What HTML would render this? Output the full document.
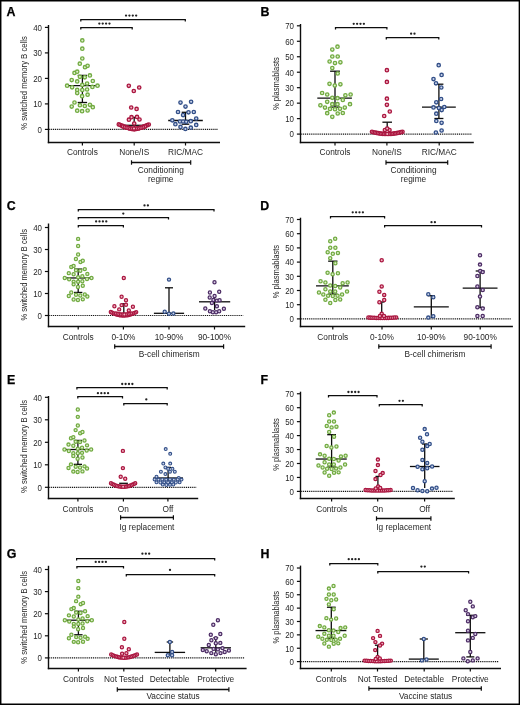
<!DOCTYPE html>
<html><head><meta charset="utf-8"><title>Figure</title>
<style>
html,body{margin:0;padding:0;background:#fff;}
body{width:520px;height:706px;overflow:hidden;}
svg{display:block;font-family:"Liberation Sans",sans-serif;}
svg{will-change:transform;}
</style></head><body>
<svg width="520" height="706" viewBox="0 0 520 706">
<rect width="520" height="706" fill="#fff"/>
<line x1="48.5" y1="25" x2="48.5" y2="143.2" stroke="#0d0d0d" stroke-width="1.4"/>
<line x1="44.9" y1="129.4" x2="48.5" y2="129.4" stroke="#0d0d0d" stroke-width="1.2"/>
<text transform="translate(42 132.7) scale(0.86 1)" font-size="9.2" text-anchor="end" fill="#262626">0</text>
<line x1="44.9" y1="103.9" x2="48.5" y2="103.9" stroke="#0d0d0d" stroke-width="1.2"/>
<text transform="translate(42 107.2) scale(0.86 1)" font-size="9.2" text-anchor="end" fill="#262626">10</text>
<line x1="44.9" y1="78.4" x2="48.5" y2="78.4" stroke="#0d0d0d" stroke-width="1.2"/>
<text transform="translate(42 81.7) scale(0.86 1)" font-size="9.2" text-anchor="end" fill="#262626">20</text>
<line x1="44.9" y1="52.9" x2="48.5" y2="52.9" stroke="#0d0d0d" stroke-width="1.2"/>
<text transform="translate(42 56.2) scale(0.86 1)" font-size="9.2" text-anchor="end" fill="#262626">30</text>
<line x1="44.9" y1="27.4" x2="48.5" y2="27.4" stroke="#0d0d0d" stroke-width="1.2"/>
<text transform="translate(42 30.7) scale(0.86 1)" font-size="9.2" text-anchor="end" fill="#262626">40</text>
<line x1="47.8" y1="142.5" x2="220" y2="142.5" stroke="#0d0d0d" stroke-width="1.4"/>
<line x1="49.2" y1="129.4" x2="218" y2="129.4" stroke="#141414" stroke-width="1.2" stroke-dasharray="1.1 0.8"/>
<line x1="82.4" y1="142.5" x2="82.4" y2="145.5" stroke="#0d0d0d" stroke-width="1.2"/>
<text x="82.4" y="155" font-size="8.3" text-anchor="middle" fill="#262626">Controls</text>
<line x1="134.2" y1="142.5" x2="134.2" y2="145.5" stroke="#0d0d0d" stroke-width="1.2"/>
<text x="134.2" y="155" font-size="8.3" text-anchor="middle" fill="#262626">None/IS</text>
<line x1="185.5" y1="142.5" x2="185.5" y2="145.5" stroke="#0d0d0d" stroke-width="1.2"/>
<text x="185.5" y="155" font-size="8.3" text-anchor="middle" fill="#262626">RIC/MAC</text>
<line x1="131.5" y1="162.5" x2="190.7" y2="162.5" stroke="#0d0d0d" stroke-width="1.3"/>
<line x1="131.5" y1="160.3" x2="131.5" y2="164.7" stroke="#0d0d0d" stroke-width="1.2"/>
<line x1="190.7" y1="160.3" x2="190.7" y2="164.7" stroke="#0d0d0d" stroke-width="1.2"/>
<text x="160.8" y="173.3" font-size="8.3" text-anchor="middle" fill="#262626">Conditioning</text>
<text x="160.8" y="182.2" font-size="8.3" text-anchor="middle" fill="#262626">regime</text>
<text x="0" y="0" font-size="8.8" fill="#262626" text-anchor="middle" textLength="93.5" lengthAdjust="spacingAndGlyphs" transform="translate(27 83) rotate(-90)">% switched memory B cells</text>
<text x="6.6" y="16" font-size="12.4" font-weight="bold" fill="#000" stroke="#000" stroke-width="0.25">A</text>
<line x1="300.5" y1="24" x2="300.5" y2="143.2" stroke="#0d0d0d" stroke-width="1.4"/>
<line x1="296.9" y1="134.1" x2="300.5" y2="134.1" stroke="#0d0d0d" stroke-width="1.2"/>
<text transform="translate(294 137.4) scale(0.86 1)" font-size="9.2" text-anchor="end" fill="#262626">0</text>
<line x1="296.9" y1="118.63" x2="300.5" y2="118.63" stroke="#0d0d0d" stroke-width="1.2"/>
<text transform="translate(294 121.93) scale(0.86 1)" font-size="9.2" text-anchor="end" fill="#262626">10</text>
<line x1="296.9" y1="103.16" x2="300.5" y2="103.16" stroke="#0d0d0d" stroke-width="1.2"/>
<text transform="translate(294 106.46) scale(0.86 1)" font-size="9.2" text-anchor="end" fill="#262626">20</text>
<line x1="296.9" y1="87.69" x2="300.5" y2="87.69" stroke="#0d0d0d" stroke-width="1.2"/>
<text transform="translate(294 90.99) scale(0.86 1)" font-size="9.2" text-anchor="end" fill="#262626">30</text>
<line x1="296.9" y1="72.22" x2="300.5" y2="72.22" stroke="#0d0d0d" stroke-width="1.2"/>
<text transform="translate(294 75.52) scale(0.86 1)" font-size="9.2" text-anchor="end" fill="#262626">40</text>
<line x1="296.9" y1="56.75" x2="300.5" y2="56.75" stroke="#0d0d0d" stroke-width="1.2"/>
<text transform="translate(294 60.05) scale(0.86 1)" font-size="9.2" text-anchor="end" fill="#262626">50</text>
<line x1="296.9" y1="41.28" x2="300.5" y2="41.28" stroke="#0d0d0d" stroke-width="1.2"/>
<text transform="translate(294 44.58) scale(0.86 1)" font-size="9.2" text-anchor="end" fill="#262626">60</text>
<line x1="296.9" y1="25.81" x2="300.5" y2="25.81" stroke="#0d0d0d" stroke-width="1.2"/>
<text transform="translate(294 29.11) scale(0.86 1)" font-size="9.2" text-anchor="end" fill="#262626">70</text>
<line x1="299.8" y1="142.5" x2="473.8" y2="142.5" stroke="#0d0d0d" stroke-width="1.4"/>
<line x1="301.2" y1="134.1" x2="471.8" y2="134.1" stroke="#141414" stroke-width="1.2" stroke-dasharray="1.1 0.8"/>
<line x1="335" y1="142.5" x2="335" y2="145.5" stroke="#0d0d0d" stroke-width="1.2"/>
<text x="335" y="155.1" font-size="8.3" text-anchor="middle" fill="#262626">Controls</text>
<line x1="386.9" y1="142.5" x2="386.9" y2="145.5" stroke="#0d0d0d" stroke-width="1.2"/>
<text x="386.9" y="155.1" font-size="8.3" text-anchor="middle" fill="#262626">None/IS</text>
<line x1="439.2" y1="142.5" x2="439.2" y2="145.5" stroke="#0d0d0d" stroke-width="1.2"/>
<text x="439.2" y="155.1" font-size="8.3" text-anchor="middle" fill="#262626">RIC/MAC</text>
<line x1="386" y1="162.5" x2="447.7" y2="162.5" stroke="#0d0d0d" stroke-width="1.3"/>
<line x1="386" y1="160.3" x2="386" y2="164.7" stroke="#0d0d0d" stroke-width="1.2"/>
<line x1="447.7" y1="160.3" x2="447.7" y2="164.7" stroke="#0d0d0d" stroke-width="1.2"/>
<text x="413.5" y="172.9" font-size="8.3" text-anchor="middle" fill="#262626">Conditioning</text>
<text x="413.5" y="182" font-size="8.3" text-anchor="middle" fill="#262626">regime</text>
<text x="0" y="0" font-size="8.8" fill="#262626" text-anchor="middle" textLength="53" lengthAdjust="spacingAndGlyphs" transform="translate(279 83.6) rotate(-90)">% plasmablasts</text>
<text x="260.5" y="16" font-size="12.4" font-weight="bold" fill="#000" stroke="#000" stroke-width="0.25">B</text>
<line x1="48.5" y1="223.5" x2="48.5" y2="327.2" stroke="#0d0d0d" stroke-width="1.4"/>
<line x1="44.9" y1="315.5" x2="48.5" y2="315.5" stroke="#0d0d0d" stroke-width="1.2"/>
<text transform="translate(42 318.8) scale(0.86 1)" font-size="9.2" text-anchor="end" fill="#262626">0</text>
<line x1="44.9" y1="293.5" x2="48.5" y2="293.5" stroke="#0d0d0d" stroke-width="1.2"/>
<text transform="translate(42 296.8) scale(0.86 1)" font-size="9.2" text-anchor="end" fill="#262626">10</text>
<line x1="44.9" y1="271.5" x2="48.5" y2="271.5" stroke="#0d0d0d" stroke-width="1.2"/>
<text transform="translate(42 274.8) scale(0.86 1)" font-size="9.2" text-anchor="end" fill="#262626">20</text>
<line x1="44.9" y1="249.5" x2="48.5" y2="249.5" stroke="#0d0d0d" stroke-width="1.2"/>
<text transform="translate(42 252.8) scale(0.86 1)" font-size="9.2" text-anchor="end" fill="#262626">30</text>
<line x1="44.9" y1="227.5" x2="48.5" y2="227.5" stroke="#0d0d0d" stroke-width="1.2"/>
<text transform="translate(42 230.8) scale(0.86 1)" font-size="9.2" text-anchor="end" fill="#262626">40</text>
<line x1="47.8" y1="326.5" x2="245.2" y2="326.5" stroke="#0d0d0d" stroke-width="1.4"/>
<line x1="49.2" y1="315.5" x2="243.2" y2="315.5" stroke="#141414" stroke-width="1.2" stroke-dasharray="1.1 0.8"/>
<line x1="78.2" y1="326.5" x2="78.2" y2="329.5" stroke="#0d0d0d" stroke-width="1.2"/>
<text x="78.2" y="339.9" font-size="8.3" text-anchor="middle" fill="#262626">Controls</text>
<line x1="123.4" y1="326.5" x2="123.4" y2="329.5" stroke="#0d0d0d" stroke-width="1.2"/>
<text x="123.4" y="339.9" font-size="8.3" text-anchor="middle" fill="#262626">0-10%</text>
<line x1="169" y1="326.5" x2="169" y2="329.5" stroke="#0d0d0d" stroke-width="1.2"/>
<text x="169" y="339.9" font-size="8.3" text-anchor="middle" fill="#262626">10-90%</text>
<line x1="214.5" y1="326.5" x2="214.5" y2="329.5" stroke="#0d0d0d" stroke-width="1.2"/>
<text x="214.5" y="339.9" font-size="8.3" text-anchor="middle" fill="#262626">90-100%</text>
<line x1="114.7" y1="346.5" x2="223.6" y2="346.5" stroke="#0d0d0d" stroke-width="1.3"/>
<line x1="114.7" y1="344.3" x2="114.7" y2="348.7" stroke="#0d0d0d" stroke-width="1.2"/>
<line x1="223.6" y1="344.3" x2="223.6" y2="348.7" stroke="#0d0d0d" stroke-width="1.2"/>
<text x="169.2" y="356.8" font-size="8.3" text-anchor="middle" fill="#262626">B-cell chimerism</text>
<text x="0" y="0" font-size="8.8" fill="#262626" text-anchor="middle" textLength="91.5" lengthAdjust="spacingAndGlyphs" transform="translate(27 274.8) rotate(-90)">% switched memory B cells</text>
<text x="6.8" y="209.9" font-size="12.4" font-weight="bold" fill="#000" stroke="#000" stroke-width="0.25">C</text>
<line x1="300.5" y1="217.7" x2="300.5" y2="327.2" stroke="#0d0d0d" stroke-width="1.4"/>
<line x1="296.9" y1="318.9" x2="300.5" y2="318.9" stroke="#0d0d0d" stroke-width="1.2"/>
<text transform="translate(294 322.2) scale(0.86 1)" font-size="9.2" text-anchor="end" fill="#262626">0</text>
<line x1="296.9" y1="304.7" x2="300.5" y2="304.7" stroke="#0d0d0d" stroke-width="1.2"/>
<text transform="translate(294 308) scale(0.86 1)" font-size="9.2" text-anchor="end" fill="#262626">10</text>
<line x1="296.9" y1="290.5" x2="300.5" y2="290.5" stroke="#0d0d0d" stroke-width="1.2"/>
<text transform="translate(294 293.8) scale(0.86 1)" font-size="9.2" text-anchor="end" fill="#262626">20</text>
<line x1="296.9" y1="276.3" x2="300.5" y2="276.3" stroke="#0d0d0d" stroke-width="1.2"/>
<text transform="translate(294 279.6) scale(0.86 1)" font-size="9.2" text-anchor="end" fill="#262626">30</text>
<line x1="296.9" y1="262.1" x2="300.5" y2="262.1" stroke="#0d0d0d" stroke-width="1.2"/>
<text transform="translate(294 265.4) scale(0.86 1)" font-size="9.2" text-anchor="end" fill="#262626">40</text>
<line x1="296.9" y1="247.9" x2="300.5" y2="247.9" stroke="#0d0d0d" stroke-width="1.2"/>
<text transform="translate(294 251.2) scale(0.86 1)" font-size="9.2" text-anchor="end" fill="#262626">50</text>
<line x1="296.9" y1="233.7" x2="300.5" y2="233.7" stroke="#0d0d0d" stroke-width="1.2"/>
<text transform="translate(294 237) scale(0.86 1)" font-size="9.2" text-anchor="end" fill="#262626">60</text>
<line x1="296.9" y1="219.5" x2="300.5" y2="219.5" stroke="#0d0d0d" stroke-width="1.2"/>
<text transform="translate(294 222.8) scale(0.86 1)" font-size="9.2" text-anchor="end" fill="#262626">70</text>
<line x1="299.8" y1="326.5" x2="512.9" y2="326.5" stroke="#0d0d0d" stroke-width="1.4"/>
<line x1="301.2" y1="318.9" x2="510.9" y2="318.9" stroke="#141414" stroke-width="1.2" stroke-dasharray="1.1 0.8"/>
<line x1="332.8" y1="326.5" x2="332.8" y2="329.5" stroke="#0d0d0d" stroke-width="1.2"/>
<text x="332.8" y="339.5" font-size="8.3" text-anchor="middle" fill="#262626">Controls</text>
<line x1="382" y1="326.5" x2="382" y2="329.5" stroke="#0d0d0d" stroke-width="1.2"/>
<text x="382" y="339.5" font-size="8.3" text-anchor="middle" fill="#262626">0-10%</text>
<line x1="431.3" y1="326.5" x2="431.3" y2="329.5" stroke="#0d0d0d" stroke-width="1.2"/>
<text x="431.3" y="339.5" font-size="8.3" text-anchor="middle" fill="#262626">10-90%</text>
<line x1="480.2" y1="326.5" x2="480.2" y2="329.5" stroke="#0d0d0d" stroke-width="1.2"/>
<text x="480.2" y="339.5" font-size="8.3" text-anchor="middle" fill="#262626">90-100%</text>
<line x1="378.8" y1="346.5" x2="491.1" y2="346.5" stroke="#0d0d0d" stroke-width="1.3"/>
<line x1="378.8" y1="344.3" x2="378.8" y2="348.7" stroke="#0d0d0d" stroke-width="1.2"/>
<line x1="491.1" y1="344.3" x2="491.1" y2="348.7" stroke="#0d0d0d" stroke-width="1.2"/>
<text x="435" y="357.4" font-size="8.3" text-anchor="middle" fill="#262626">B-cell chimerism</text>
<text x="0" y="0" font-size="8.8" fill="#262626" text-anchor="middle" textLength="53.5" lengthAdjust="spacingAndGlyphs" transform="translate(279 271.6) rotate(-90)">% plasmablasts</text>
<text x="260.3" y="209.7" font-size="12.4" font-weight="bold" fill="#000" stroke="#000" stroke-width="0.25">D</text>
<line x1="48.5" y1="396" x2="48.5" y2="499.2" stroke="#0d0d0d" stroke-width="1.4"/>
<line x1="44.9" y1="487.3" x2="48.5" y2="487.3" stroke="#0d0d0d" stroke-width="1.2"/>
<text transform="translate(42 490.6) scale(0.86 1)" font-size="9.2" text-anchor="end" fill="#262626">0</text>
<line x1="44.9" y1="464.8" x2="48.5" y2="464.8" stroke="#0d0d0d" stroke-width="1.2"/>
<text transform="translate(42 468.1) scale(0.86 1)" font-size="9.2" text-anchor="end" fill="#262626">10</text>
<line x1="44.9" y1="442.3" x2="48.5" y2="442.3" stroke="#0d0d0d" stroke-width="1.2"/>
<text transform="translate(42 445.6) scale(0.86 1)" font-size="9.2" text-anchor="end" fill="#262626">20</text>
<line x1="44.9" y1="419.8" x2="48.5" y2="419.8" stroke="#0d0d0d" stroke-width="1.2"/>
<text transform="translate(42 423.1) scale(0.86 1)" font-size="9.2" text-anchor="end" fill="#262626">30</text>
<line x1="44.9" y1="397.3" x2="48.5" y2="397.3" stroke="#0d0d0d" stroke-width="1.2"/>
<text transform="translate(42 400.6) scale(0.86 1)" font-size="9.2" text-anchor="end" fill="#262626">40</text>
<line x1="47.8" y1="498.5" x2="198.2" y2="498.5" stroke="#0d0d0d" stroke-width="1.4"/>
<line x1="49.2" y1="487.3" x2="196.2" y2="487.3" stroke="#141414" stroke-width="1.2" stroke-dasharray="1.1 0.8"/>
<line x1="77.9" y1="498.5" x2="77.9" y2="501.5" stroke="#0d0d0d" stroke-width="1.2"/>
<text x="77.9" y="511.6" font-size="8.3" text-anchor="middle" fill="#262626">Controls</text>
<line x1="123.4" y1="498.5" x2="123.4" y2="501.5" stroke="#0d0d0d" stroke-width="1.2"/>
<text x="123.4" y="511.6" font-size="8.3" text-anchor="middle" fill="#262626">On</text>
<line x1="167.9" y1="498.5" x2="167.9" y2="501.5" stroke="#0d0d0d" stroke-width="1.2"/>
<text x="167.9" y="511.6" font-size="8.3" text-anchor="middle" fill="#262626">Off</text>
<line x1="120.6" y1="517.5" x2="173.4" y2="517.5" stroke="#0d0d0d" stroke-width="1.3"/>
<line x1="120.6" y1="515.3" x2="120.6" y2="519.7" stroke="#0d0d0d" stroke-width="1.2"/>
<line x1="173.4" y1="515.3" x2="173.4" y2="519.7" stroke="#0d0d0d" stroke-width="1.2"/>
<text x="147" y="529.6" font-size="8.3" text-anchor="middle" fill="#262626">Ig replacement</text>
<text x="0" y="0" font-size="8.8" fill="#262626" text-anchor="middle" textLength="93" lengthAdjust="spacingAndGlyphs" transform="translate(27 446.5) rotate(-90)">% switched memory B cells</text>
<text x="6.9" y="384" font-size="12.4" font-weight="bold" fill="#000" stroke="#000" stroke-width="0.25">E</text>
<line x1="300.5" y1="391.7" x2="300.5" y2="499.2" stroke="#0d0d0d" stroke-width="1.4"/>
<line x1="296.9" y1="491.4" x2="300.5" y2="491.4" stroke="#0d0d0d" stroke-width="1.2"/>
<text transform="translate(294 494.7) scale(0.86 1)" font-size="9.2" text-anchor="end" fill="#262626">0</text>
<line x1="296.9" y1="477.45" x2="300.5" y2="477.45" stroke="#0d0d0d" stroke-width="1.2"/>
<text transform="translate(294 480.75) scale(0.86 1)" font-size="9.2" text-anchor="end" fill="#262626">10</text>
<line x1="296.9" y1="463.5" x2="300.5" y2="463.5" stroke="#0d0d0d" stroke-width="1.2"/>
<text transform="translate(294 466.8) scale(0.86 1)" font-size="9.2" text-anchor="end" fill="#262626">20</text>
<line x1="296.9" y1="449.55" x2="300.5" y2="449.55" stroke="#0d0d0d" stroke-width="1.2"/>
<text transform="translate(294 452.85) scale(0.86 1)" font-size="9.2" text-anchor="end" fill="#262626">30</text>
<line x1="296.9" y1="435.6" x2="300.5" y2="435.6" stroke="#0d0d0d" stroke-width="1.2"/>
<text transform="translate(294 438.9) scale(0.86 1)" font-size="9.2" text-anchor="end" fill="#262626">40</text>
<line x1="296.9" y1="421.65" x2="300.5" y2="421.65" stroke="#0d0d0d" stroke-width="1.2"/>
<text transform="translate(294 424.95) scale(0.86 1)" font-size="9.2" text-anchor="end" fill="#262626">50</text>
<line x1="296.9" y1="407.7" x2="300.5" y2="407.7" stroke="#0d0d0d" stroke-width="1.2"/>
<text transform="translate(294 411) scale(0.86 1)" font-size="9.2" text-anchor="end" fill="#262626">60</text>
<line x1="296.9" y1="393.75" x2="300.5" y2="393.75" stroke="#0d0d0d" stroke-width="1.2"/>
<text transform="translate(294 397.05) scale(0.86 1)" font-size="9.2" text-anchor="end" fill="#262626">70</text>
<line x1="299.8" y1="498.5" x2="454.8" y2="498.5" stroke="#0d0d0d" stroke-width="1.4"/>
<line x1="301.2" y1="491.4" x2="452.8" y2="491.4" stroke="#141414" stroke-width="1.2" stroke-dasharray="1.1 0.8"/>
<line x1="331.6" y1="498.5" x2="331.6" y2="501.5" stroke="#0d0d0d" stroke-width="1.2"/>
<text x="331.6" y="511.6" font-size="8.3" text-anchor="middle" fill="#262626">Controls</text>
<line x1="377.7" y1="498.5" x2="377.7" y2="501.5" stroke="#0d0d0d" stroke-width="1.2"/>
<text x="377.7" y="511.6" font-size="8.3" text-anchor="middle" fill="#262626">On</text>
<line x1="424.6" y1="498.5" x2="424.6" y2="501.5" stroke="#0d0d0d" stroke-width="1.2"/>
<text x="424.6" y="511.6" font-size="8.3" text-anchor="middle" fill="#262626">Off</text>
<line x1="376.5" y1="518.5" x2="430.9" y2="518.5" stroke="#0d0d0d" stroke-width="1.3"/>
<line x1="376.5" y1="516.3" x2="376.5" y2="520.7" stroke="#0d0d0d" stroke-width="1.2"/>
<line x1="430.9" y1="516.3" x2="430.9" y2="520.7" stroke="#0d0d0d" stroke-width="1.2"/>
<text x="403.7" y="530" font-size="8.3" text-anchor="middle" fill="#262626">Ig replacement</text>
<text x="0" y="0" font-size="8.8" fill="#262626" text-anchor="middle" textLength="52.7" lengthAdjust="spacingAndGlyphs" transform="translate(279 444.5) rotate(-90)">% plasmablasts</text>
<text x="260.5" y="383.9" font-size="12.4" font-weight="bold" fill="#000" stroke="#000" stroke-width="0.25">F</text>
<line x1="48.5" y1="565.8" x2="48.5" y2="669.2" stroke="#0d0d0d" stroke-width="1.4"/>
<line x1="44.9" y1="657.9" x2="48.5" y2="657.9" stroke="#0d0d0d" stroke-width="1.2"/>
<text transform="translate(42 661.2) scale(0.86 1)" font-size="9.2" text-anchor="end" fill="#262626">0</text>
<line x1="44.9" y1="635.8" x2="48.5" y2="635.8" stroke="#0d0d0d" stroke-width="1.2"/>
<text transform="translate(42 639.1) scale(0.86 1)" font-size="9.2" text-anchor="end" fill="#262626">10</text>
<line x1="44.9" y1="613.7" x2="48.5" y2="613.7" stroke="#0d0d0d" stroke-width="1.2"/>
<text transform="translate(42 617) scale(0.86 1)" font-size="9.2" text-anchor="end" fill="#262626">20</text>
<line x1="44.9" y1="591.6" x2="48.5" y2="591.6" stroke="#0d0d0d" stroke-width="1.2"/>
<text transform="translate(42 594.9) scale(0.86 1)" font-size="9.2" text-anchor="end" fill="#262626">30</text>
<line x1="44.9" y1="569.5" x2="48.5" y2="569.5" stroke="#0d0d0d" stroke-width="1.2"/>
<text transform="translate(42 572.8) scale(0.86 1)" font-size="9.2" text-anchor="end" fill="#262626">40</text>
<line x1="47.8" y1="668.5" x2="246.6" y2="668.5" stroke="#0d0d0d" stroke-width="1.4"/>
<line x1="49.2" y1="657.9" x2="244.6" y2="657.9" stroke="#141414" stroke-width="1.2" stroke-dasharray="1.1 0.8"/>
<line x1="78.4" y1="668.5" x2="78.4" y2="671.5" stroke="#0d0d0d" stroke-width="1.2"/>
<text x="78.4" y="682.2" font-size="8.3" text-anchor="middle" fill="#262626">Controls</text>
<line x1="123.8" y1="668.5" x2="123.8" y2="671.5" stroke="#0d0d0d" stroke-width="1.2"/>
<text x="123.8" y="682.2" font-size="8.3" text-anchor="middle" fill="#262626">Not Tested</text>
<line x1="169.6" y1="668.5" x2="169.6" y2="671.5" stroke="#0d0d0d" stroke-width="1.2"/>
<text x="169.6" y="682.2" font-size="8.3" text-anchor="middle" fill="#262626">Detectable</text>
<line x1="215.7" y1="668.5" x2="215.7" y2="671.5" stroke="#0d0d0d" stroke-width="1.2"/>
<text x="215.7" y="682.2" font-size="8.3" text-anchor="middle" fill="#262626">Protective</text>
<line x1="117.3" y1="689.5" x2="228.9" y2="689.5" stroke="#0d0d0d" stroke-width="1.3"/>
<line x1="117.3" y1="687.3" x2="117.3" y2="691.7" stroke="#0d0d0d" stroke-width="1.2"/>
<line x1="228.9" y1="687.3" x2="228.9" y2="691.7" stroke="#0d0d0d" stroke-width="1.2"/>
<text x="173.1" y="699.1" font-size="8.3" text-anchor="middle" fill="#262626">Vaccine status</text>
<text x="0" y="0" font-size="8.8" fill="#262626" text-anchor="middle" textLength="92.7" lengthAdjust="spacingAndGlyphs" transform="translate(27 617.4) rotate(-90)">% switched memory B cells</text>
<text x="6.8" y="557.9" font-size="12.4" font-weight="bold" fill="#000" stroke="#000" stroke-width="0.25">G</text>
<line x1="300.5" y1="565.6" x2="300.5" y2="669.2" stroke="#0d0d0d" stroke-width="1.4"/>
<line x1="296.9" y1="661.6" x2="300.5" y2="661.6" stroke="#0d0d0d" stroke-width="1.2"/>
<text transform="translate(294 664.9) scale(0.86 1)" font-size="9.2" text-anchor="end" fill="#262626">0</text>
<line x1="296.9" y1="648.23" x2="300.5" y2="648.23" stroke="#0d0d0d" stroke-width="1.2"/>
<text transform="translate(294 651.53) scale(0.86 1)" font-size="9.2" text-anchor="end" fill="#262626">10</text>
<line x1="296.9" y1="634.86" x2="300.5" y2="634.86" stroke="#0d0d0d" stroke-width="1.2"/>
<text transform="translate(294 638.16) scale(0.86 1)" font-size="9.2" text-anchor="end" fill="#262626">20</text>
<line x1="296.9" y1="621.49" x2="300.5" y2="621.49" stroke="#0d0d0d" stroke-width="1.2"/>
<text transform="translate(294 624.79) scale(0.86 1)" font-size="9.2" text-anchor="end" fill="#262626">30</text>
<line x1="296.9" y1="608.12" x2="300.5" y2="608.12" stroke="#0d0d0d" stroke-width="1.2"/>
<text transform="translate(294 611.42) scale(0.86 1)" font-size="9.2" text-anchor="end" fill="#262626">40</text>
<line x1="296.9" y1="594.75" x2="300.5" y2="594.75" stroke="#0d0d0d" stroke-width="1.2"/>
<text transform="translate(294 598.05) scale(0.86 1)" font-size="9.2" text-anchor="end" fill="#262626">50</text>
<line x1="296.9" y1="581.38" x2="300.5" y2="581.38" stroke="#0d0d0d" stroke-width="1.2"/>
<text transform="translate(294 584.68) scale(0.86 1)" font-size="9.2" text-anchor="end" fill="#262626">60</text>
<line x1="296.9" y1="568.01" x2="300.5" y2="568.01" stroke="#0d0d0d" stroke-width="1.2"/>
<text transform="translate(294 571.31) scale(0.86 1)" font-size="9.2" text-anchor="end" fill="#262626">70</text>
<line x1="299.8" y1="668.5" x2="501" y2="668.5" stroke="#0d0d0d" stroke-width="1.4"/>
<line x1="301.2" y1="661.6" x2="499" y2="661.6" stroke="#141414" stroke-width="1.2" stroke-dasharray="1.1 0.8"/>
<line x1="331.3" y1="668.5" x2="331.3" y2="671.5" stroke="#0d0d0d" stroke-width="1.2"/>
<text x="331.3" y="682.1" font-size="8.3" text-anchor="middle" fill="#262626">Controls</text>
<line x1="377.5" y1="668.5" x2="377.5" y2="671.5" stroke="#0d0d0d" stroke-width="1.2"/>
<text x="377.5" y="682.1" font-size="8.3" text-anchor="middle" fill="#262626">Not Tested</text>
<line x1="424.2" y1="668.5" x2="424.2" y2="671.5" stroke="#0d0d0d" stroke-width="1.2"/>
<text x="424.2" y="682.1" font-size="8.3" text-anchor="middle" fill="#262626">Detectable</text>
<line x1="470.3" y1="668.5" x2="470.3" y2="671.5" stroke="#0d0d0d" stroke-width="1.2"/>
<text x="470.3" y="682.1" font-size="8.3" text-anchor="middle" fill="#262626">Protective</text>
<line x1="368.9" y1="688.5" x2="481.3" y2="688.5" stroke="#0d0d0d" stroke-width="1.3"/>
<line x1="368.9" y1="686.3" x2="368.9" y2="690.7" stroke="#0d0d0d" stroke-width="1.2"/>
<line x1="481.3" y1="686.3" x2="481.3" y2="690.7" stroke="#0d0d0d" stroke-width="1.2"/>
<text x="425.6" y="699.2" font-size="8.3" text-anchor="middle" fill="#262626">Vaccine status</text>
<text x="0" y="0" font-size="8.8" fill="#262626" text-anchor="middle" textLength="52.4" lengthAdjust="spacingAndGlyphs" transform="translate(279 617.2) rotate(-90)">% plasmablasts</text>
<text x="260.5" y="558" font-size="12.4" font-weight="bold" fill="#000" stroke="#000" stroke-width="0.25">H</text>
<path d="M80.8 21.5V19.5H185.3V21.5" fill="none" stroke="#0d0d0d" stroke-width="1.25"/>
<g fill="#222"><circle cx="126.03" cy="15.6" r="1.15"/><circle cx="129.41" cy="15.6" r="1.15"/><circle cx="132.79" cy="15.6" r="1.15"/><circle cx="136.17" cy="15.6" r="1.15"/></g>
<path d="M80.8 29.5V27.5H132.2V29.5" fill="none" stroke="#0d0d0d" stroke-width="1.25"/>
<g fill="#222"><circle cx="99.33" cy="23.6" r="1.15"/><circle cx="102.71" cy="23.6" r="1.15"/><circle cx="106.09" cy="23.6" r="1.15"/><circle cx="109.47" cy="23.6" r="1.15"/></g>
<path d="M335.5 29.5V27.5H386.9V29.5" fill="none" stroke="#0d0d0d" stroke-width="1.25"/>
<g fill="#222"><circle cx="353.73" cy="23.8" r="1.15"/><circle cx="357.11" cy="23.8" r="1.15"/><circle cx="360.49" cy="23.8" r="1.15"/><circle cx="363.87" cy="23.8" r="1.15"/></g>
<path d="M386.3 39.5V37.5H438.8V39.5" fill="none" stroke="#0d0d0d" stroke-width="1.25"/>
<g fill="#222"><circle cx="411.11" cy="33.7" r="1.15"/><circle cx="414.49" cy="33.7" r="1.15"/></g>
<path d="M78.3 211.5V209.5H214V211.5" fill="none" stroke="#0d0d0d" stroke-width="1.25"/>
<g fill="#222"><circle cx="144.51" cy="205.4" r="1.15"/><circle cx="147.89" cy="205.4" r="1.15"/></g>
<path d="M78.3 219.5V217.5H168.5V219.5" fill="none" stroke="#0d0d0d" stroke-width="1.25"/>
<g fill="#222"><circle cx="123.3" cy="213.6" r="1.15"/></g>
<path d="M78.3 227.5V225.5H123.4V227.5" fill="none" stroke="#0d0d0d" stroke-width="1.25"/>
<g fill="#222"><circle cx="96.13" cy="221.4" r="1.15"/><circle cx="99.51" cy="221.4" r="1.15"/><circle cx="102.89" cy="221.4" r="1.15"/><circle cx="106.27" cy="221.4" r="1.15"/></g>
<path d="M330.5 218.5V216.5H384.6V218.5" fill="none" stroke="#0d0d0d" stroke-width="1.25"/>
<g fill="#222"><circle cx="352.73" cy="212.3" r="1.15"/><circle cx="356.11" cy="212.3" r="1.15"/><circle cx="359.49" cy="212.3" r="1.15"/><circle cx="362.87" cy="212.3" r="1.15"/></g>
<path d="M384.6 227.5V225.5H481.5V227.5" fill="none" stroke="#0d0d0d" stroke-width="1.25"/>
<g fill="#222"><circle cx="431.51" cy="222.2" r="1.15"/><circle cx="434.89" cy="222.2" r="1.15"/></g>
<path d="M76.9 389.5V387.5H167.2V389.5" fill="none" stroke="#0d0d0d" stroke-width="1.25"/>
<g fill="#222"><circle cx="122.23" cy="384" r="1.15"/><circle cx="125.61" cy="384" r="1.15"/><circle cx="128.99" cy="384" r="1.15"/><circle cx="132.37" cy="384" r="1.15"/></g>
<path d="M77.8 398.5V396.5H122.5V398.5" fill="none" stroke="#0d0d0d" stroke-width="1.25"/>
<g fill="#222"><circle cx="97.93" cy="393.2" r="1.15"/><circle cx="101.31" cy="393.2" r="1.15"/><circle cx="104.69" cy="393.2" r="1.15"/><circle cx="108.07" cy="393.2" r="1.15"/></g>
<path d="M123.8 405.5V403.5H167.2V405.5" fill="none" stroke="#0d0d0d" stroke-width="1.25"/>
<g fill="#222"><circle cx="146.3" cy="399.4" r="1.15"/></g>
<path d="M328.5 397.5V395.5H377V397.5" fill="none" stroke="#0d0d0d" stroke-width="1.25"/>
<g fill="#222"><circle cx="348.43" cy="392" r="1.15"/><circle cx="351.81" cy="392" r="1.15"/><circle cx="355.19" cy="392" r="1.15"/><circle cx="358.57" cy="392" r="1.15"/></g>
<path d="M379.3 406.5V404.5H422.2V406.5" fill="none" stroke="#0d0d0d" stroke-width="1.25"/>
<g fill="#222"><circle cx="399.51" cy="400.8" r="1.15"/><circle cx="402.89" cy="400.8" r="1.15"/></g>
<path d="M76.6 560.5V558.5H214.7V560.5" fill="none" stroke="#0d0d0d" stroke-width="1.25"/>
<g fill="#222"><circle cx="142.42" cy="553.7" r="1.15"/><circle cx="145.8" cy="553.7" r="1.15"/><circle cx="149.18" cy="553.7" r="1.15"/></g>
<path d="M76.9 568.5V566.5H123.5V568.5" fill="none" stroke="#0d0d0d" stroke-width="1.25"/>
<g fill="#222"><circle cx="95.73" cy="561.9" r="1.15"/><circle cx="99.11" cy="561.9" r="1.15"/><circle cx="102.49" cy="561.9" r="1.15"/><circle cx="105.87" cy="561.9" r="1.15"/></g>
<path d="M126.3 576.5V574.5H214.7V576.5" fill="none" stroke="#0d0d0d" stroke-width="1.25"/>
<g fill="#222"><circle cx="170" cy="569.9" r="1.15"/></g>
<path d="M329.8 565.5V563.5H377.8V565.5" fill="none" stroke="#0d0d0d" stroke-width="1.25"/>
<g fill="#222"><circle cx="348.73" cy="559.2" r="1.15"/><circle cx="352.11" cy="559.2" r="1.15"/><circle cx="355.49" cy="559.2" r="1.15"/><circle cx="358.87" cy="559.2" r="1.15"/></g>
<path d="M377.8 573.5V571.5H468.6V573.5" fill="none" stroke="#0d0d0d" stroke-width="1.25"/>
<g fill="#222"><circle cx="421.41" cy="566.6" r="1.15"/><circle cx="424.79" cy="566.6" r="1.15"/></g>
<line x1="119.2" y1="483.3" x2="127.9" y2="483.3" stroke="#0d0d0d" stroke-width="1.3"/>
<line x1="82.4" y1="75.4" x2="82.4" y2="102.5" stroke="#0d0d0d" stroke-width="1.3"/>
<line x1="77.7" y1="75.4" x2="87.1" y2="75.4" stroke="#0d0d0d" stroke-width="1.3"/>
<line x1="77.7" y1="102.5" x2="87.1" y2="102.5" stroke="#0d0d0d" stroke-width="1.3"/>
<line x1="67" y1="85.7" x2="99.4" y2="85.7" stroke="#0d0d0d" stroke-width="1.3"/>
<line x1="134.2" y1="117.4" x2="134.2" y2="129" stroke="#0d0d0d" stroke-width="1.3"/>
<line x1="131.2" y1="117.4" x2="137.2" y2="117.4" stroke="#0d0d0d" stroke-width="1.3"/>
<line x1="125.2" y1="125.3" x2="143.2" y2="125.3" stroke="#0d0d0d" stroke-width="1.3"/>
<line x1="185.5" y1="112.3" x2="185.5" y2="124.2" stroke="#0d0d0d" stroke-width="1.3"/>
<line x1="181.7" y1="112.3" x2="189.3" y2="112.3" stroke="#0d0d0d" stroke-width="1.3"/>
<line x1="181.7" y1="124.2" x2="189.3" y2="124.2" stroke="#0d0d0d" stroke-width="1.3"/>
<line x1="168.2" y1="120.5" x2="202.8" y2="120.5" stroke="#0d0d0d" stroke-width="1.3"/>
<line x1="335" y1="71.2" x2="335" y2="107.1" stroke="#0d0d0d" stroke-width="1.3"/>
<line x1="330.1" y1="71.2" x2="339.9" y2="71.2" stroke="#0d0d0d" stroke-width="1.3"/>
<line x1="330.1" y1="107.1" x2="339.9" y2="107.1" stroke="#0d0d0d" stroke-width="1.3"/>
<line x1="317.3" y1="98.2" x2="351.9" y2="98.2" stroke="#0d0d0d" stroke-width="1.3"/>
<line x1="387.2" y1="122.2" x2="387.2" y2="130" stroke="#0d0d0d" stroke-width="1.3"/>
<line x1="382.4" y1="122.2" x2="392" y2="122.2" stroke="#0d0d0d" stroke-width="1.3"/>
<line x1="438.9" y1="84.2" x2="438.9" y2="118.5" stroke="#0d0d0d" stroke-width="1.3"/>
<line x1="434.4" y1="84.2" x2="443.4" y2="84.2" stroke="#0d0d0d" stroke-width="1.3"/>
<line x1="434.4" y1="118.5" x2="443.4" y2="118.5" stroke="#0d0d0d" stroke-width="1.3"/>
<line x1="422" y1="107.2" x2="455.8" y2="107.2" stroke="#0d0d0d" stroke-width="1.3"/>
<line x1="78.2" y1="269.08" x2="78.2" y2="292.46" stroke="#0d0d0d" stroke-width="1.3"/>
<line x1="74.06" y1="269.08" x2="82.34" y2="269.08" stroke="#0d0d0d" stroke-width="1.3"/>
<line x1="74.06" y1="292.46" x2="82.34" y2="292.46" stroke="#0d0d0d" stroke-width="1.3"/>
<line x1="64.65" y1="277.97" x2="93.16" y2="277.97" stroke="#0d0d0d" stroke-width="1.3"/>
<line x1="123.8" y1="303.8" x2="123.8" y2="313" stroke="#0d0d0d" stroke-width="1.3"/>
<line x1="121.3" y1="303.8" x2="126.3" y2="303.8" stroke="#0d0d0d" stroke-width="1.3"/>
<line x1="169" y1="287.8" x2="169" y2="313.3" stroke="#0d0d0d" stroke-width="1.3"/>
<line x1="165" y1="287.8" x2="173" y2="287.8" stroke="#0d0d0d" stroke-width="1.3"/>
<line x1="153.9" y1="313.3" x2="184.1" y2="313.3" stroke="#0d0d0d" stroke-width="1.3"/>
<line x1="214.6" y1="295.4" x2="214.6" y2="310" stroke="#0d0d0d" stroke-width="1.3"/>
<line x1="199" y1="301.8" x2="230.2" y2="301.8" stroke="#0d0d0d" stroke-width="1.3"/>
<line x1="332.8" y1="261.16" x2="332.8" y2="294.12" stroke="#0d0d0d" stroke-width="1.3"/>
<line x1="328.15" y1="261.16" x2="337.45" y2="261.16" stroke="#0d0d0d" stroke-width="1.3"/>
<line x1="328.15" y1="294.12" x2="337.45" y2="294.12" stroke="#0d0d0d" stroke-width="1.3"/>
<line x1="316.02" y1="285.95" x2="348.82" y2="285.95" stroke="#0d0d0d" stroke-width="1.3"/>
<line x1="381.7" y1="302" x2="381.7" y2="316" stroke="#0d0d0d" stroke-width="1.3"/>
<line x1="378.9" y1="302" x2="384.5" y2="302" stroke="#0d0d0d" stroke-width="1.3"/>
<line x1="431.3" y1="295.7" x2="431.3" y2="318" stroke="#0d0d0d" stroke-width="1.3"/>
<line x1="427.8" y1="295.7" x2="434.8" y2="295.7" stroke="#0d0d0d" stroke-width="1.3"/>
<line x1="413.8" y1="306.8" x2="448.8" y2="306.8" stroke="#0d0d0d" stroke-width="1.3"/>
<line x1="480.1" y1="271" x2="480.1" y2="307.5" stroke="#0d0d0d" stroke-width="1.3"/>
<line x1="475.7" y1="271" x2="484.5" y2="271" stroke="#0d0d0d" stroke-width="1.3"/>
<line x1="475.7" y1="307.5" x2="484.5" y2="307.5" stroke="#0d0d0d" stroke-width="1.3"/>
<line x1="462.7" y1="288.1" x2="497.5" y2="288.1" stroke="#0d0d0d" stroke-width="1.3"/>
<line x1="77.9" y1="440.43" x2="77.9" y2="464.34" stroke="#0d0d0d" stroke-width="1.3"/>
<line x1="73.77" y1="440.43" x2="82.03" y2="440.43" stroke="#0d0d0d" stroke-width="1.3"/>
<line x1="73.77" y1="464.34" x2="82.03" y2="464.34" stroke="#0d0d0d" stroke-width="1.3"/>
<line x1="64.38" y1="449.52" x2="92.82" y2="449.52" stroke="#0d0d0d" stroke-width="1.3"/>
<line x1="168.1" y1="467.4" x2="168.1" y2="481.3" stroke="#0d0d0d" stroke-width="1.3"/>
<line x1="165.1" y1="467.4" x2="171.1" y2="467.4" stroke="#0d0d0d" stroke-width="1.3"/>
<line x1="153.2" y1="478" x2="183" y2="478" stroke="#0d0d0d" stroke-width="1.3"/>
<line x1="331.6" y1="434.68" x2="331.6" y2="467.05" stroke="#0d0d0d" stroke-width="1.3"/>
<line x1="327.2" y1="434.68" x2="336" y2="434.68" stroke="#0d0d0d" stroke-width="1.3"/>
<line x1="327.2" y1="467.05" x2="336" y2="467.05" stroke="#0d0d0d" stroke-width="1.3"/>
<line x1="315.71" y1="459.03" x2="346.77" y2="459.03" stroke="#0d0d0d" stroke-width="1.3"/>
<line x1="377.9" y1="476.4" x2="377.9" y2="490" stroke="#0d0d0d" stroke-width="1.3"/>
<line x1="375.5" y1="476.4" x2="380.3" y2="476.4" stroke="#0d0d0d" stroke-width="1.3"/>
<line x1="424.7" y1="444" x2="424.7" y2="488" stroke="#0d0d0d" stroke-width="1.3"/>
<line x1="421.9" y1="444" x2="427.5" y2="444" stroke="#0d0d0d" stroke-width="1.3"/>
<line x1="409.9" y1="466.5" x2="439.5" y2="466.5" stroke="#0d0d0d" stroke-width="1.3"/>
<line x1="78.4" y1="611.27" x2="78.4" y2="634.76" stroke="#0d0d0d" stroke-width="1.3"/>
<line x1="74.23" y1="611.27" x2="82.57" y2="611.27" stroke="#0d0d0d" stroke-width="1.3"/>
<line x1="74.23" y1="634.76" x2="82.57" y2="634.76" stroke="#0d0d0d" stroke-width="1.3"/>
<line x1="64.73" y1="620.2" x2="93.49" y2="620.2" stroke="#0d0d0d" stroke-width="1.3"/>
<line x1="169.9" y1="642" x2="169.9" y2="655" stroke="#0d0d0d" stroke-width="1.3"/>
<line x1="166.7" y1="642" x2="173.1" y2="642" stroke="#0d0d0d" stroke-width="1.3"/>
<line x1="154.7" y1="652.4" x2="185.1" y2="652.4" stroke="#0d0d0d" stroke-width="1.3"/>
<line x1="215.8" y1="637.7" x2="215.8" y2="652" stroke="#0d0d0d" stroke-width="1.3"/>
<line x1="213.4" y1="637.7" x2="218.2" y2="637.7" stroke="#0d0d0d" stroke-width="1.3"/>
<line x1="200.6" y1="647.8" x2="231" y2="647.8" stroke="#0d0d0d" stroke-width="1.3"/>
<line x1="331.3" y1="607.24" x2="331.3" y2="638.27" stroke="#0d0d0d" stroke-width="1.3"/>
<line x1="326.93" y1="607.24" x2="335.67" y2="607.24" stroke="#0d0d0d" stroke-width="1.3"/>
<line x1="326.93" y1="638.27" x2="335.67" y2="638.27" stroke="#0d0d0d" stroke-width="1.3"/>
<line x1="315.51" y1="630.57" x2="346.38" y2="630.57" stroke="#0d0d0d" stroke-width="1.3"/>
<line x1="377.6" y1="645.2" x2="377.6" y2="658" stroke="#0d0d0d" stroke-width="1.3"/>
<line x1="374.9" y1="645.2" x2="380.3" y2="645.2" stroke="#0d0d0d" stroke-width="1.3"/>
<line x1="423.8" y1="639" x2="423.8" y2="659" stroke="#0d0d0d" stroke-width="1.3"/>
<line x1="419.7" y1="639" x2="427.9" y2="639" stroke="#0d0d0d" stroke-width="1.3"/>
<line x1="408.8" y1="659.1" x2="438.8" y2="659.1" stroke="#0d0d0d" stroke-width="1.3"/>
<line x1="470.3" y1="615.3" x2="470.3" y2="656.9" stroke="#0d0d0d" stroke-width="1.3"/>
<line x1="466.3" y1="615.3" x2="474.3" y2="615.3" stroke="#0d0d0d" stroke-width="1.3"/>
<line x1="466.3" y1="656.9" x2="474.3" y2="656.9" stroke="#0d0d0d" stroke-width="1.3"/>
<line x1="455.2" y1="632.7" x2="485.4" y2="632.7" stroke="#0d0d0d" stroke-width="1.3"/>
<g fill="#e0f0ce" stroke="#72ab42" stroke-width="1.35"><circle cx="82.3" cy="40.4" r="1.68"/><circle cx="82.3" cy="48.7" r="1.68"/><circle cx="82.3" cy="58.5" r="1.68"/><circle cx="79.8" cy="63.7" r="1.68"/><circle cx="85" cy="67.2" r="1.68"/><circle cx="87.6" cy="65.8" r="1.68"/><circle cx="74.5" cy="72.9" r="1.68"/><circle cx="77.2" cy="71.7" r="1.68"/><circle cx="79.9" cy="76.8" r="1.68"/><circle cx="84.8" cy="77.3" r="1.68"/><circle cx="89.9" cy="75.4" r="1.68"/><circle cx="71.7" cy="80.1" r="1.68"/><circle cx="77.2" cy="81.4" r="1.68"/><circle cx="92.8" cy="81" r="1.68"/><circle cx="67.1" cy="85.7" r="1.68"/><circle cx="72.1" cy="87.3" r="1.68"/><circle cx="82.3" cy="84.9" r="1.68"/><circle cx="87.1" cy="83.6" r="1.68"/><circle cx="92.4" cy="86.9" r="1.68"/><circle cx="97.5" cy="85.7" r="1.68"/><circle cx="77.2" cy="89.9" r="1.68"/><circle cx="82.3" cy="90" r="1.68"/><circle cx="87.1" cy="89.5" r="1.68"/><circle cx="77.2" cy="93.1" r="1.68"/><circle cx="87.6" cy="94.7" r="1.68"/><circle cx="82.1" cy="96.2" r="1.68"/><circle cx="74.5" cy="102.5" r="1.68"/><circle cx="71.7" cy="106.6" r="1.68"/><circle cx="79.9" cy="105.2" r="1.68"/><circle cx="84.8" cy="106" r="1.68"/><circle cx="89.9" cy="104.8" r="1.68"/><circle cx="92.8" cy="107.2" r="1.68"/><circle cx="77.2" cy="110.7" r="1.68"/><circle cx="82.1" cy="111.2" r="1.68"/><circle cx="87.6" cy="110.5" r="1.68"/></g>
<g fill="#f0b5c4" stroke="#aa1740" stroke-width="1.35"><circle cx="118.8" cy="124.4" r="1.68"/><circle cx="148.8" cy="124.56" r="1.68"/><circle cx="120.38" cy="125.04" r="1.68"/><circle cx="147.22" cy="125.2" r="1.68"/><circle cx="121.96" cy="125.66" r="1.68"/><circle cx="145.64" cy="125.82" r="1.68"/><circle cx="123.54" cy="126.26" r="1.68"/><circle cx="144.06" cy="126.41" r="1.68"/><circle cx="125.12" cy="126.84" r="1.68"/><circle cx="142.48" cy="126.99" r="1.68"/><circle cx="126.69" cy="127.4" r="1.68"/><circle cx="140.91" cy="127.54" r="1.68"/><circle cx="128.27" cy="127.92" r="1.68"/><circle cx="139.33" cy="128.05" r="1.68"/><circle cx="129.85" cy="128.41" r="1.68"/><circle cx="137.75" cy="128.53" r="1.68"/><circle cx="131.43" cy="128.86" r="1.68"/><circle cx="136.17" cy="128.96" r="1.68"/><circle cx="133.01" cy="129.24" r="1.68"/><circle cx="134.59" cy="129.31" r="1.68"/></g>
<g fill="#f0b5c4" stroke="#aa1740" stroke-width="1.35"><circle cx="123" cy="126.6" r="1.68"/><circle cx="145" cy="126.6" r="1.68"/><circle cx="124.83" cy="127.21" r="1.68"/><circle cx="143.17" cy="127.21" r="1.68"/><circle cx="141.33" cy="127.71" r="1.68"/><circle cx="126.67" cy="127.71" r="1.68"/><circle cx="128.5" cy="128.1" r="1.68"/><circle cx="139.5" cy="128.1" r="1.68"/><circle cx="130.33" cy="128.38" r="1.68"/><circle cx="137.67" cy="128.38" r="1.68"/><circle cx="132.17" cy="128.54" r="1.68"/><circle cx="135.83" cy="128.54" r="1.68"/><circle cx="134" cy="128.6" r="1.68"/></g>
<g fill="#f0b5c4" stroke="#aa1740" stroke-width="1.35"><circle cx="128.8" cy="85.8" r="1.68"/><circle cx="139.2" cy="87.5" r="1.68"/><circle cx="133.8" cy="91" r="1.68"/><circle cx="131.2" cy="107.5" r="1.68"/><circle cx="136.6" cy="108.9" r="1.68"/><circle cx="131.5" cy="117.2" r="1.68"/><circle cx="137" cy="116.9" r="1.68"/><circle cx="128.9" cy="119.7" r="1.68"/><circle cx="139.5" cy="119.5" r="1.68"/><circle cx="134.2" cy="123.5" r="1.68"/></g>
<g fill="#cdd6ec" stroke="#324f88" stroke-width="1.35"><circle cx="180.5" cy="102.6" r="1.68"/><circle cx="191.1" cy="101.8" r="1.68"/><circle cx="185.5" cy="106.6" r="1.68"/><circle cx="178" cy="112" r="1.68"/><circle cx="183.1" cy="115.1" r="1.68"/><circle cx="188.5" cy="112.3" r="1.68"/><circle cx="193.8" cy="112" r="1.68"/><circle cx="196.2" cy="118.5" r="1.68"/><circle cx="172.3" cy="120.3" r="1.68"/><circle cx="180" cy="121.5" r="1.68"/><circle cx="183.1" cy="121.5" r="1.68"/><circle cx="186.2" cy="121.8" r="1.68"/><circle cx="190.8" cy="121.2" r="1.68"/><circle cx="175.4" cy="124.2" r="1.68"/><circle cx="196.2" cy="124.9" r="1.68"/><circle cx="180.5" cy="126.9" r="1.68"/><circle cx="185.4" cy="128.9" r="1.68"/><circle cx="190.8" cy="127.7" r="1.68"/></g>
<g fill="#e0f0ce" stroke="#72ab42" stroke-width="1.35"><circle cx="337.5" cy="46.7" r="1.68"/><circle cx="332.3" cy="49.6" r="1.68"/><circle cx="332.3" cy="56.5" r="1.68"/><circle cx="337.7" cy="56.5" r="1.68"/><circle cx="329.6" cy="61.5" r="1.68"/><circle cx="335" cy="63.1" r="1.68"/><circle cx="340.4" cy="62.3" r="1.68"/><circle cx="332.3" cy="68.1" r="1.68"/><circle cx="337.7" cy="73.5" r="1.68"/><circle cx="329.5" cy="83.8" r="1.68"/><circle cx="334.8" cy="85.5" r="1.68"/><circle cx="340.4" cy="84.3" r="1.68"/><circle cx="322.1" cy="93" r="1.68"/><circle cx="327.2" cy="94.5" r="1.68"/><circle cx="345.4" cy="95.3" r="1.68"/><circle cx="350.6" cy="94.5" r="1.68"/><circle cx="332.3" cy="97.8" r="1.68"/><circle cx="337.5" cy="98.2" r="1.68"/><circle cx="342.8" cy="99.9" r="1.68"/><circle cx="327.2" cy="101.8" r="1.68"/><circle cx="332.3" cy="104.2" r="1.68"/><circle cx="337.5" cy="104.2" r="1.68"/><circle cx="320.4" cy="105.3" r="1.68"/><circle cx="350" cy="104.2" r="1.68"/><circle cx="325" cy="107.6" r="1.68"/><circle cx="330" cy="108.9" r="1.68"/><circle cx="335" cy="109.2" r="1.68"/><circle cx="340" cy="108.8" r="1.68"/><circle cx="344.8" cy="107.6" r="1.68"/><circle cx="327.2" cy="113.2" r="1.68"/><circle cx="337.7" cy="113.5" r="1.68"/><circle cx="342.8" cy="113" r="1.68"/><circle cx="332.3" cy="116.8" r="1.68"/></g>
<g fill="#f0b5c4" stroke="#aa1740" stroke-width="1.35"><circle cx="402.5" cy="131.8" r="1.68"/><circle cx="372" cy="131.83" r="1.68"/><circle cx="400.98" cy="132.22" r="1.68"/><circle cx="373.52" cy="132.24" r="1.68"/><circle cx="399.45" cy="132.59" r="1.68"/><circle cx="375.05" cy="132.61" r="1.68"/><circle cx="397.93" cy="132.92" r="1.68"/><circle cx="376.57" cy="132.94" r="1.68"/><circle cx="396.4" cy="133.2" r="1.68"/><circle cx="378.1" cy="133.22" r="1.68"/><circle cx="394.88" cy="133.45" r="1.68"/><circle cx="379.62" cy="133.46" r="1.68"/><circle cx="393.35" cy="133.64" r="1.68"/><circle cx="381.15" cy="133.66" r="1.68"/><circle cx="391.82" cy="133.8" r="1.68"/><circle cx="382.68" cy="133.81" r="1.68"/><circle cx="390.3" cy="133.91" r="1.68"/><circle cx="384.2" cy="133.92" r="1.68"/><circle cx="388.77" cy="133.98" r="1.68"/><circle cx="385.73" cy="133.98" r="1.68"/><circle cx="387.25" cy="134" r="1.68"/></g>
<g fill="#f0b5c4" stroke="#aa1740" stroke-width="1.35"><circle cx="386.9" cy="70.2" r="1.68"/><circle cx="386.9" cy="81.9" r="1.68"/><circle cx="386.9" cy="98.7" r="1.68"/><circle cx="386.9" cy="104.8" r="1.68"/><circle cx="389.8" cy="111.5" r="1.68"/><circle cx="384.2" cy="116" r="1.68"/><circle cx="384.9" cy="130" r="1.68"/><circle cx="389.5" cy="130" r="1.68"/><circle cx="387.2" cy="128.6" r="1.68"/></g>
<g fill="#cdd6ec" stroke="#324f88" stroke-width="1.35"><circle cx="438.7" cy="65.2" r="1.68"/><circle cx="441.6" cy="74.9" r="1.68"/><circle cx="433.5" cy="79.1" r="1.68"/><circle cx="436" cy="83.3" r="1.68"/><circle cx="441.3" cy="87.5" r="1.68"/><circle cx="441.1" cy="99" r="1.68"/><circle cx="436.3" cy="102.3" r="1.68"/><circle cx="433.5" cy="107.4" r="1.68"/><circle cx="438.9" cy="108" r="1.68"/><circle cx="444.3" cy="107" r="1.68"/><circle cx="441.7" cy="110.1" r="1.68"/><circle cx="436.3" cy="113.7" r="1.68"/><circle cx="436.3" cy="121" r="1.68"/><circle cx="441.6" cy="122.8" r="1.68"/><circle cx="441.6" cy="130.5" r="1.68"/><circle cx="435.9" cy="132.5" r="1.68"/></g>
<g fill="#e0f0ce" stroke="#72ab42" stroke-width="1.26"><circle cx="78.11" cy="238.89" r="1.57"/><circle cx="78.11" cy="246.05" r="1.57"/><circle cx="78.11" cy="254.5" r="1.57"/><circle cx="75.91" cy="258.99" r="1.57"/><circle cx="80.49" cy="262.01" r="1.57"/><circle cx="82.78" cy="260.8" r="1.57"/><circle cx="71.25" cy="266.93" r="1.57"/><circle cx="73.62" cy="265.89" r="1.57"/><circle cx="76" cy="270.29" r="1.57"/><circle cx="80.31" cy="270.72" r="1.57"/><circle cx="84.8" cy="269.08" r="1.57"/><circle cx="68.79" cy="273.14" r="1.57"/><circle cx="73.62" cy="274.26" r="1.57"/><circle cx="87.35" cy="273.92" r="1.57"/><circle cx="64.74" cy="277.97" r="1.57"/><circle cx="69.14" cy="279.35" r="1.57"/><circle cx="78.11" cy="277.28" r="1.57"/><circle cx="82.34" cy="276.16" r="1.57"/><circle cx="87" cy="279.01" r="1.57"/><circle cx="91.49" cy="277.97" r="1.57"/><circle cx="73.62" cy="281.59" r="1.57"/><circle cx="78.11" cy="281.68" r="1.57"/><circle cx="82.34" cy="281.25" r="1.57"/><circle cx="73.62" cy="284.35" r="1.57"/><circle cx="82.78" cy="285.74" r="1.57"/><circle cx="77.94" cy="287.03" r="1.57"/><circle cx="71.25" cy="292.46" r="1.57"/><circle cx="68.79" cy="296" r="1.57"/><circle cx="76" cy="294.79" r="1.57"/><circle cx="80.31" cy="295.48" r="1.57"/><circle cx="84.8" cy="294.45" r="1.57"/><circle cx="87.35" cy="296.52" r="1.57"/><circle cx="73.62" cy="299.54" r="1.57"/><circle cx="77.94" cy="299.97" r="1.57"/><circle cx="82.78" cy="299.37" r="1.57"/></g>
<g fill="#f0b5c4" stroke="#aa1740" stroke-width="1.26"><circle cx="110.8" cy="312" r="1.57"/><circle cx="136.2" cy="312.11" r="1.57"/><circle cx="112.29" cy="312.77" r="1.57"/><circle cx="134.71" cy="312.87" r="1.57"/><circle cx="113.79" cy="313.44" r="1.57"/><circle cx="133.21" cy="313.53" r="1.57"/><circle cx="115.28" cy="314.02" r="1.57"/><circle cx="131.72" cy="314.09" r="1.57"/><circle cx="116.78" cy="314.51" r="1.57"/><circle cx="130.22" cy="314.56" r="1.57"/><circle cx="118.27" cy="314.89" r="1.57"/><circle cx="128.73" cy="314.94" r="1.57"/><circle cx="119.76" cy="315.19" r="1.57"/><circle cx="127.24" cy="315.22" r="1.57"/><circle cx="121.26" cy="315.38" r="1.57"/><circle cx="125.74" cy="315.4" r="1.57"/><circle cx="122.75" cy="315.48" r="1.57"/><circle cx="124.25" cy="315.49" r="1.57"/></g>
<g fill="#f0b5c4" stroke="#aa1740" stroke-width="1.26"><circle cx="116" cy="313.5" r="1.57"/><circle cx="131" cy="313.55" r="1.57"/><circle cx="117.67" cy="313.89" r="1.57"/><circle cx="129.33" cy="313.93" r="1.57"/><circle cx="119.33" cy="314.18" r="1.57"/><circle cx="127.67" cy="314.21" r="1.57"/><circle cx="121" cy="314.38" r="1.57"/><circle cx="126" cy="314.4" r="1.57"/><circle cx="122.67" cy="314.48" r="1.57"/><circle cx="124.33" cy="314.49" r="1.57"/></g>
<g fill="#f0b5c4" stroke="#aa1740" stroke-width="1.26"><circle cx="123.8" cy="278" r="1.57"/><circle cx="121.6" cy="296.7" r="1.57"/><circle cx="126" cy="300.3" r="1.57"/><circle cx="114.4" cy="306.3" r="1.57"/><circle cx="121.6" cy="305.1" r="1.57"/><circle cx="126" cy="304.8" r="1.57"/><circle cx="132.9" cy="306.8" r="1.57"/><circle cx="119.2" cy="309.4" r="1.57"/><circle cx="128.8" cy="310.4" r="1.57"/></g>
<g fill="#cdd6ec" stroke="#324f88" stroke-width="1.26"><circle cx="169" cy="279.6" r="1.57"/><circle cx="164.7" cy="311.8" r="1.57"/><circle cx="169" cy="313.8" r="1.57"/><circle cx="173.4" cy="313.5" r="1.57"/></g>
<g fill="#ddd2e8" stroke="#4d2d65" stroke-width="1.26"><circle cx="214.5" cy="282.3" r="1.57"/><circle cx="209.9" cy="292.5" r="1.57"/><circle cx="219.2" cy="291.8" r="1.57"/><circle cx="209.7" cy="297.5" r="1.57"/><circle cx="214.6" cy="296" r="1.57"/><circle cx="213.4" cy="300" r="1.57"/><circle cx="216.9" cy="300.6" r="1.57"/><circle cx="219.6" cy="300.2" r="1.57"/><circle cx="211.9" cy="303" r="1.57"/><circle cx="216.9" cy="306.3" r="1.57"/><circle cx="205.3" cy="308.5" r="1.57"/><circle cx="223.9" cy="308.7" r="1.57"/><circle cx="209.9" cy="311.3" r="1.57"/><circle cx="212.9" cy="312.2" r="1.57"/><circle cx="216.1" cy="312.2" r="1.57"/><circle cx="219.2" cy="311.3" r="1.57"/></g>
<g fill="#e0f0ce" stroke="#72ab42" stroke-width="1.3"><circle cx="335.17" cy="238.68" r="1.62"/><circle cx="330.24" cy="241.34" r="1.62"/><circle cx="330.24" cy="247.67" r="1.62"/><circle cx="335.36" cy="247.67" r="1.62"/><circle cx="327.68" cy="252.26" r="1.62"/><circle cx="332.8" cy="253.73" r="1.62"/><circle cx="337.92" cy="252.99" r="1.62"/><circle cx="330.24" cy="258.32" r="1.62"/><circle cx="335.36" cy="263.27" r="1.62"/><circle cx="327.59" cy="272.73" r="1.62"/><circle cx="332.61" cy="274.29" r="1.62"/><circle cx="337.92" cy="273.19" r="1.62"/><circle cx="320.57" cy="281.17" r="1.62"/><circle cx="325.41" cy="282.55" r="1.62"/><circle cx="342.66" cy="283.29" r="1.62"/><circle cx="347.59" cy="282.55" r="1.62"/><circle cx="330.24" cy="285.58" r="1.62"/><circle cx="335.17" cy="285.95" r="1.62"/><circle cx="340.19" cy="287.51" r="1.62"/><circle cx="325.41" cy="289.25" r="1.62"/><circle cx="330.24" cy="291.45" r="1.62"/><circle cx="335.17" cy="291.45" r="1.62"/><circle cx="318.96" cy="292.46" r="1.62"/><circle cx="347.02" cy="291.45" r="1.62"/><circle cx="323.32" cy="294.58" r="1.62"/><circle cx="328.06" cy="295.77" r="1.62"/><circle cx="332.8" cy="296.04" r="1.62"/><circle cx="337.54" cy="295.68" r="1.62"/><circle cx="342.09" cy="294.58" r="1.62"/><circle cx="325.41" cy="299.72" r="1.62"/><circle cx="335.36" cy="299.99" r="1.62"/><circle cx="340.19" cy="299.53" r="1.62"/><circle cx="330.24" cy="303.02" r="1.62"/></g>
<g fill="#f0b5c4" stroke="#aa1740" stroke-width="1.3"><circle cx="396.2" cy="317.4" r="1.62"/><circle cx="368.4" cy="317.5" r="1.62"/><circle cx="394.21" cy="317.55" r="1.62"/><circle cx="370.39" cy="317.63" r="1.62"/><circle cx="392.23" cy="317.68" r="1.62"/><circle cx="372.37" cy="317.75" r="1.62"/><circle cx="390.24" cy="317.79" r="1.62"/><circle cx="374.36" cy="317.85" r="1.62"/><circle cx="388.26" cy="317.88" r="1.62"/><circle cx="376.34" cy="317.92" r="1.62"/><circle cx="386.27" cy="317.94" r="1.62"/><circle cx="378.33" cy="317.97" r="1.62"/><circle cx="384.29" cy="317.98" r="1.62"/><circle cx="380.31" cy="317.99" r="1.62"/><circle cx="382.3" cy="318" r="1.62"/></g>
<g fill="#f0b5c4" stroke="#aa1740" stroke-width="1.3"><circle cx="381.7" cy="260.2" r="1.62"/><circle cx="381.7" cy="286.4" r="1.62"/><circle cx="379.4" cy="291.8" r="1.62"/><circle cx="384.2" cy="294.9" r="1.62"/><circle cx="384.2" cy="300" r="1.62"/><circle cx="379.4" cy="302.2" r="1.62"/><circle cx="381.7" cy="313.8" r="1.62"/><circle cx="379.9" cy="316" r="1.62"/><circle cx="384" cy="316" r="1.62"/></g>
<g fill="#cdd6ec" stroke="#324f88" stroke-width="1.3"><circle cx="428.3" cy="294.3" r="1.62"/><circle cx="433.3" cy="297.3" r="1.62"/><circle cx="428.3" cy="317.6" r="1.62"/><circle cx="433.3" cy="316.2" r="1.62"/></g>
<g fill="#ddd2e8" stroke="#4d2d65" stroke-width="1.3"><circle cx="480" cy="255.3" r="1.62"/><circle cx="480" cy="264.6" r="1.62"/><circle cx="480.2" cy="270.9" r="1.62"/><circle cx="482.7" cy="272.1" r="1.62"/><circle cx="477.4" cy="276" r="1.62"/><circle cx="477.4" cy="286.5" r="1.62"/><circle cx="482.7" cy="290" r="1.62"/><circle cx="480" cy="296.5" r="1.62"/><circle cx="477.4" cy="307.3" r="1.62"/><circle cx="482.7" cy="308.5" r="1.62"/><circle cx="477.4" cy="316" r="1.62"/><circle cx="482.7" cy="316" r="1.62"/></g>
<g fill="#e0f0ce" stroke="#72ab42" stroke-width="1.27"><circle cx="77.81" cy="409.55" r="1.58"/><circle cx="77.81" cy="416.87" r="1.58"/><circle cx="77.81" cy="425.52" r="1.58"/><circle cx="75.62" cy="430.11" r="1.58"/><circle cx="80.18" cy="433.19" r="1.58"/><circle cx="82.47" cy="431.96" r="1.58"/><circle cx="70.96" cy="438.22" r="1.58"/><circle cx="73.33" cy="437.16" r="1.58"/><circle cx="75.71" cy="441.66" r="1.58"/><circle cx="80.01" cy="442.11" r="1.58"/><circle cx="84.48" cy="440.43" r="1.58"/><circle cx="68.51" cy="444.58" r="1.58"/><circle cx="73.33" cy="445.72" r="1.58"/><circle cx="87.03" cy="445.37" r="1.58"/><circle cx="64.47" cy="449.52" r="1.58"/><circle cx="68.86" cy="450.93" r="1.58"/><circle cx="77.81" cy="448.81" r="1.58"/><circle cx="82.03" cy="447.66" r="1.58"/><circle cx="86.68" cy="450.58" r="1.58"/><circle cx="91.16" cy="449.52" r="1.58"/><circle cx="73.33" cy="453.22" r="1.58"/><circle cx="77.81" cy="453.31" r="1.58"/><circle cx="82.03" cy="452.87" r="1.58"/><circle cx="73.33" cy="456.05" r="1.58"/><circle cx="82.47" cy="457.46" r="1.58"/><circle cx="77.64" cy="458.78" r="1.58"/><circle cx="70.96" cy="464.34" r="1.58"/><circle cx="68.51" cy="467.96" r="1.58"/><circle cx="75.71" cy="466.72" r="1.58"/><circle cx="80.01" cy="467.43" r="1.58"/><circle cx="84.48" cy="466.37" r="1.58"/><circle cx="87.03" cy="468.49" r="1.58"/><circle cx="73.33" cy="471.58" r="1.58"/><circle cx="77.64" cy="472.02" r="1.58"/><circle cx="82.47" cy="471.4" r="1.58"/></g>
<g fill="#f0b5c4" stroke="#aa1740" stroke-width="1.27"><circle cx="111" cy="483.3" r="1.58"/><circle cx="135.2" cy="483.3" r="1.58"/><circle cx="133.69" cy="484.12" r="1.58"/><circle cx="112.51" cy="484.12" r="1.58"/><circle cx="114.03" cy="484.83" r="1.58"/><circle cx="132.17" cy="484.83" r="1.58"/><circle cx="115.54" cy="485.43" r="1.58"/><circle cx="130.66" cy="485.43" r="1.58"/><circle cx="117.05" cy="485.93" r="1.58"/><circle cx="129.15" cy="485.93" r="1.58"/><circle cx="118.56" cy="486.31" r="1.58"/><circle cx="127.64" cy="486.31" r="1.58"/><circle cx="120.07" cy="486.58" r="1.58"/><circle cx="126.12" cy="486.58" r="1.58"/><circle cx="121.59" cy="486.75" r="1.58"/><circle cx="124.61" cy="486.75" r="1.58"/><circle cx="123.1" cy="486.8" r="1.58"/></g>
<g fill="#f0b5c4" stroke="#aa1740" stroke-width="1.27"><circle cx="122.9" cy="450.9" r="1.58"/><circle cx="122.9" cy="468.1" r="1.58"/><circle cx="120.7" cy="476.7" r="1.58"/><circle cx="125.2" cy="478.8" r="1.58"/></g>
<g fill="#cdd6ec" stroke="#324f88" stroke-width="1.1"><circle cx="165.7" cy="449.1" r="1.45"/><circle cx="170.2" cy="453.8" r="1.45"/><circle cx="163.3" cy="463.6" r="1.45"/><circle cx="170.2" cy="463.6" r="1.45"/><circle cx="165.4" cy="467.4" r="1.45"/><circle cx="168.1" cy="468.8" r="1.45"/><circle cx="172.4" cy="468.8" r="1.45"/><circle cx="160.9" cy="471.7" r="1.45"/><circle cx="170" cy="471.7" r="1.45"/><circle cx="174.8" cy="471.7" r="1.45"/><circle cx="165.4" cy="474.1" r="1.45"/><circle cx="156.5" cy="476.7" r="1.45"/><circle cx="178.7" cy="478" r="1.45"/><circle cx="154.6" cy="479.4" r="1.45"/><circle cx="158.5" cy="479.6" r="1.45"/><circle cx="162.3" cy="479.4" r="1.45"/><circle cx="166.2" cy="479.6" r="1.45"/><circle cx="170" cy="479.4" r="1.45"/><circle cx="173.8" cy="479.6" r="1.45"/><circle cx="177.7" cy="479.4" r="1.45"/><circle cx="181.5" cy="479.6" r="1.45"/><circle cx="156.5" cy="482.3" r="1.45"/><circle cx="160.4" cy="482.5" r="1.45"/><circle cx="164.2" cy="482.3" r="1.45"/><circle cx="168.1" cy="482.5" r="1.45"/><circle cx="171.9" cy="482.3" r="1.45"/><circle cx="175.8" cy="482.5" r="1.45"/><circle cx="179.6" cy="482.3" r="1.45"/><circle cx="162.8" cy="484.6" r="1.45"/><circle cx="166.4" cy="485" r="1.45"/><circle cx="170" cy="484.8" r="1.45"/><circle cx="173.3" cy="484.5" r="1.45"/></g>
<g fill="#e0f0ce" stroke="#72ab42" stroke-width="1.28"><circle cx="333.84" cy="412.59" r="1.6"/><circle cx="329.18" cy="415.2" r="1.6"/><circle cx="329.18" cy="421.42" r="1.6"/><circle cx="334.02" cy="421.42" r="1.6"/><circle cx="326.75" cy="425.93" r="1.6"/><circle cx="331.6" cy="427.38" r="1.6"/><circle cx="336.45" cy="426.65" r="1.6"/><circle cx="329.18" cy="431.88" r="1.6"/><circle cx="334.02" cy="436.75" r="1.6"/><circle cx="326.66" cy="446.04" r="1.6"/><circle cx="331.42" cy="447.58" r="1.6"/><circle cx="336.45" cy="446.49" r="1.6"/><circle cx="320.02" cy="454.34" r="1.6"/><circle cx="324.6" cy="455.69" r="1.6"/><circle cx="340.94" cy="456.41" r="1.6"/><circle cx="345.61" cy="455.69" r="1.6"/><circle cx="329.18" cy="458.67" r="1.6"/><circle cx="333.84" cy="459.03" r="1.6"/><circle cx="338.6" cy="460.56" r="1.6"/><circle cx="324.6" cy="462.27" r="1.6"/><circle cx="329.18" cy="464.44" r="1.6"/><circle cx="333.84" cy="464.44" r="1.6"/><circle cx="318.49" cy="465.43" r="1.6"/><circle cx="345.07" cy="464.44" r="1.6"/><circle cx="322.62" cy="467.5" r="1.6"/><circle cx="327.11" cy="468.68" r="1.6"/><circle cx="331.6" cy="468.95" r="1.6"/><circle cx="336.09" cy="468.59" r="1.6"/><circle cx="340.4" cy="467.5" r="1.6"/><circle cx="324.6" cy="472.55" r="1.6"/><circle cx="334.02" cy="472.82" r="1.6"/><circle cx="338.6" cy="472.37" r="1.6"/><circle cx="329.18" cy="475.8" r="1.6"/></g>
<g fill="#f0b5c4" stroke="#aa1740" stroke-width="1.28"><circle cx="390.6" cy="490" r="1.6"/><circle cx="365.6" cy="490.04" r="1.6"/><circle cx="388.68" cy="490.17" r="1.6"/><circle cx="367.52" cy="490.2" r="1.6"/><circle cx="386.75" cy="490.31" r="1.6"/><circle cx="369.45" cy="490.33" r="1.6"/><circle cx="384.83" cy="490.42" r="1.6"/><circle cx="371.37" cy="490.44" r="1.6"/><circle cx="382.91" cy="490.51" r="1.6"/><circle cx="373.29" cy="490.52" r="1.6"/><circle cx="380.98" cy="490.56" r="1.6"/><circle cx="375.22" cy="490.57" r="1.6"/><circle cx="379.06" cy="490.59" r="1.6"/><circle cx="377.14" cy="490.6" r="1.6"/></g>
<g fill="#f0b5c4" stroke="#aa1740" stroke-width="1.28"><circle cx="377.9" cy="459.6" r="1.6"/><circle cx="377.9" cy="465.1" r="1.6"/><circle cx="375.5" cy="471" r="1.6"/><circle cx="382.7" cy="473.1" r="1.6"/><circle cx="380.5" cy="475" r="1.6"/><circle cx="375.5" cy="479.1" r="1.6"/><circle cx="378.1" cy="486.5" r="1.6"/><circle cx="375.7" cy="488.5" r="1.6"/><circle cx="380.2" cy="488" r="1.6"/></g>
<g fill="#cdd6ec" stroke="#324f88" stroke-width="1.28"><circle cx="424.7" cy="429.1" r="1.6"/><circle cx="427" cy="434.2" r="1.6"/><circle cx="420.1" cy="437.8" r="1.6"/><circle cx="422.4" cy="441.8" r="1.6"/><circle cx="429.7" cy="444" r="1.6"/><circle cx="427.2" cy="446.1" r="1.6"/><circle cx="422.4" cy="449.7" r="1.6"/><circle cx="422.4" cy="459.9" r="1.6"/><circle cx="427.2" cy="462.9" r="1.6"/><circle cx="417.6" cy="466.8" r="1.6"/><circle cx="422.4" cy="469.3" r="1.6"/><circle cx="427.2" cy="468.2" r="1.6"/><circle cx="432.1" cy="466.5" r="1.6"/><circle cx="424.7" cy="481.2" r="1.6"/><circle cx="413" cy="488" r="1.6"/><circle cx="417.6" cy="490.3" r="1.6"/><circle cx="422.4" cy="490.9" r="1.6"/><circle cx="427.2" cy="491.2" r="1.6"/><circle cx="432" cy="488.6" r="1.6"/><circle cx="436.5" cy="487.8" r="1.6"/></g>
<g fill="#e0f0ce" stroke="#72ab42" stroke-width="1.27"><circle cx="78.31" cy="580.94" r="1.58"/><circle cx="78.31" cy="588.13" r="1.58"/><circle cx="78.31" cy="596.63" r="1.58"/><circle cx="76.09" cy="601.13" r="1.58"/><circle cx="80.71" cy="604.17" r="1.58"/><circle cx="83.02" cy="602.95" r="1.58"/><circle cx="71.39" cy="609.11" r="1.58"/><circle cx="73.78" cy="608.07" r="1.58"/><circle cx="76.18" cy="612.49" r="1.58"/><circle cx="80.53" cy="612.92" r="1.58"/><circle cx="85.06" cy="611.27" r="1.58"/><circle cx="68.9" cy="615.35" r="1.58"/><circle cx="73.78" cy="616.47" r="1.58"/><circle cx="87.63" cy="616.13" r="1.58"/><circle cx="64.82" cy="620.2" r="1.58"/><circle cx="69.26" cy="621.59" r="1.58"/><circle cx="78.31" cy="619.51" r="1.58"/><circle cx="82.57" cy="618.38" r="1.58"/><circle cx="87.28" cy="621.24" r="1.58"/><circle cx="91.8" cy="620.2" r="1.58"/><circle cx="73.78" cy="623.84" r="1.58"/><circle cx="78.31" cy="623.93" r="1.58"/><circle cx="82.57" cy="623.49" r="1.58"/><circle cx="73.78" cy="626.61" r="1.58"/><circle cx="83.02" cy="628" r="1.58"/><circle cx="78.13" cy="629.3" r="1.58"/><circle cx="71.39" cy="634.76" r="1.58"/><circle cx="68.9" cy="638.31" r="1.58"/><circle cx="76.18" cy="637.1" r="1.58"/><circle cx="80.53" cy="637.79" r="1.58"/><circle cx="85.06" cy="636.75" r="1.58"/><circle cx="87.63" cy="638.83" r="1.58"/><circle cx="73.78" cy="641.87" r="1.58"/><circle cx="78.13" cy="642.3" r="1.58"/><circle cx="83.02" cy="641.69" r="1.58"/></g>
<g fill="#f0b5c4" stroke="#aa1740" stroke-width="1.27"><circle cx="137" cy="654.4" r="1.58"/><circle cx="111.2" cy="654.5" r="1.58"/><circle cx="135.48" cy="655.13" r="1.58"/><circle cx="112.72" cy="655.21" r="1.58"/><circle cx="133.96" cy="655.76" r="1.58"/><circle cx="114.24" cy="655.84" r="1.58"/><circle cx="132.45" cy="656.31" r="1.58"/><circle cx="115.75" cy="656.37" r="1.58"/><circle cx="130.93" cy="656.76" r="1.58"/><circle cx="117.27" cy="656.82" r="1.58"/><circle cx="129.41" cy="657.13" r="1.58"/><circle cx="118.79" cy="657.17" r="1.58"/><circle cx="127.89" cy="657.4" r="1.58"/><circle cx="120.31" cy="657.43" r="1.58"/><circle cx="126.38" cy="657.59" r="1.58"/><circle cx="121.82" cy="657.61" r="1.58"/><circle cx="124.86" cy="657.69" r="1.58"/><circle cx="123.34" cy="657.69" r="1.58"/></g>
<g fill="#f0b5c4" stroke="#aa1740" stroke-width="1.27"><circle cx="124.3" cy="622" r="1.58"/><circle cx="124.3" cy="638.8" r="1.58"/><circle cx="121.9" cy="647.3" r="1.58"/><circle cx="128.8" cy="649.2" r="1.58"/><circle cx="122.1" cy="653.8" r="1.58"/><circle cx="126.4" cy="653.3" r="1.58"/></g>
<g fill="#cdd6ec" stroke="#324f88" stroke-width="1.27"><circle cx="169.9" cy="642" r="1.58"/><circle cx="172.1" cy="652" r="1.58"/><circle cx="167.8" cy="655.3" r="1.58"/><circle cx="172.1" cy="655.3" r="1.58"/></g>
<g fill="#ddd2e8" stroke="#4d2d65" stroke-width="1.27"><circle cx="217.9" cy="620.2" r="1.58"/><circle cx="213.3" cy="624.7" r="1.58"/><circle cx="210.8" cy="634.7" r="1.58"/><circle cx="220.3" cy="634" r="1.58"/><circle cx="215.8" cy="638.1" r="1.58"/><circle cx="211.4" cy="640.3" r="1.58"/><circle cx="215.8" cy="643.3" r="1.58"/><circle cx="220.3" cy="642.9" r="1.58"/><circle cx="208.8" cy="645" r="1.58"/><circle cx="213.6" cy="648.9" r="1.58"/><circle cx="217.9" cy="649.4" r="1.58"/><circle cx="222.5" cy="648.1" r="1.58"/><circle cx="202.8" cy="650" r="1.58"/><circle cx="206.7" cy="651.3" r="1.58"/><circle cx="211.3" cy="653.1" r="1.58"/><circle cx="215.8" cy="654.3" r="1.58"/><circle cx="220.5" cy="653.1" r="1.58"/><circle cx="224.7" cy="652" r="1.58"/><circle cx="228.9" cy="650.5" r="1.58"/></g>
<g fill="#e0f0ce" stroke="#72ab42" stroke-width="1.27"><circle cx="333.53" cy="586.06" r="1.58"/><circle cx="328.89" cy="588.57" r="1.58"/><circle cx="328.89" cy="594.53" r="1.58"/><circle cx="333.71" cy="594.53" r="1.58"/><circle cx="326.48" cy="598.86" r="1.58"/><circle cx="331.3" cy="600.24" r="1.58"/><circle cx="336.12" cy="599.55" r="1.58"/><circle cx="328.89" cy="604.56" r="1.58"/><circle cx="333.71" cy="609.23" r="1.58"/><circle cx="326.39" cy="618.13" r="1.58"/><circle cx="331.12" cy="619.6" r="1.58"/><circle cx="336.12" cy="618.56" r="1.58"/><circle cx="319.79" cy="626.08" r="1.58"/><circle cx="324.34" cy="627.38" r="1.58"/><circle cx="340.58" cy="628.07" r="1.58"/><circle cx="345.22" cy="627.38" r="1.58"/><circle cx="328.89" cy="630.23" r="1.58"/><circle cx="333.53" cy="630.57" r="1.58"/><circle cx="338.26" cy="632.04" r="1.58"/><circle cx="324.34" cy="633.68" r="1.58"/><circle cx="328.89" cy="635.76" r="1.58"/><circle cx="333.53" cy="635.76" r="1.58"/><circle cx="318.28" cy="636.71" r="1.58"/><circle cx="344.68" cy="635.76" r="1.58"/><circle cx="322.38" cy="638.7" r="1.58"/><circle cx="326.84" cy="639.82" r="1.58"/><circle cx="331.3" cy="640.08" r="1.58"/><circle cx="335.76" cy="639.73" r="1.58"/><circle cx="340.04" cy="638.7" r="1.58"/><circle cx="324.34" cy="643.54" r="1.58"/><circle cx="333.71" cy="643.8" r="1.58"/><circle cx="338.26" cy="643.36" r="1.58"/><circle cx="328.89" cy="646.65" r="1.58"/></g>
<g fill="#f0b5c4" stroke="#aa1740" stroke-width="1.27"><circle cx="390.8" cy="660.6" r="1.58"/><circle cx="364.6" cy="660.62" r="1.58"/><circle cx="388.78" cy="660.77" r="1.58"/><circle cx="366.62" cy="660.78" r="1.58"/><circle cx="386.77" cy="660.91" r="1.58"/><circle cx="368.63" cy="660.92" r="1.58"/><circle cx="384.75" cy="661.02" r="1.58"/><circle cx="370.65" cy="661.03" r="1.58"/><circle cx="382.74" cy="661.11" r="1.58"/><circle cx="372.66" cy="661.12" r="1.58"/><circle cx="380.72" cy="661.17" r="1.58"/><circle cx="374.68" cy="661.17" r="1.58"/><circle cx="378.71" cy="661.2" r="1.58"/><circle cx="376.69" cy="661.2" r="1.58"/></g>
<g fill="#f0b5c4" stroke="#aa1740" stroke-width="1.27"><circle cx="377.6" cy="630.9" r="1.58"/><circle cx="380" cy="635.9" r="1.58"/><circle cx="373.1" cy="638.1" r="1.58"/><circle cx="375.4" cy="642.1" r="1.58"/><circle cx="382.1" cy="643.6" r="1.58"/><circle cx="380" cy="645.5" r="1.58"/><circle cx="375.2" cy="650.1" r="1.58"/><circle cx="377.6" cy="657" r="1.58"/><circle cx="375.7" cy="659" r="1.58"/><circle cx="379.8" cy="658.5" r="1.58"/></g>
<g fill="#cdd6ec" stroke="#324f88" stroke-width="1.27"><circle cx="423.8" cy="639" r="1.58"/><circle cx="421.9" cy="660.4" r="1.58"/><circle cx="426.5" cy="659.5" r="1.58"/></g>
<g fill="#ddd2e8" stroke="#4d2d65" stroke-width="1.27"><circle cx="470.3" cy="601.7" r="1.58"/><circle cx="472.8" cy="606.4" r="1.58"/><circle cx="465.7" cy="610.2" r="1.58"/><circle cx="468" cy="614.1" r="1.58"/><circle cx="472.8" cy="617.3" r="1.58"/><circle cx="475.3" cy="616.1" r="1.58"/><circle cx="468" cy="621.3" r="1.58"/><circle cx="468" cy="630.7" r="1.58"/><circle cx="475.3" cy="634" r="1.58"/><circle cx="472.8" cy="637.9" r="1.58"/><circle cx="468" cy="640.4" r="1.58"/><circle cx="470.3" cy="652" r="1.58"/><circle cx="463.4" cy="658.4" r="1.58"/><circle cx="467.8" cy="661.2" r="1.58"/><circle cx="472.8" cy="660.4" r="1.58"/><circle cx="477.6" cy="658.4" r="1.58"/></g>
<path d="M0.7 0.7H519.4V704.2H0.7Z" fill="none" stroke="#000" stroke-width="1.5"/>
</svg>
</body></html>
